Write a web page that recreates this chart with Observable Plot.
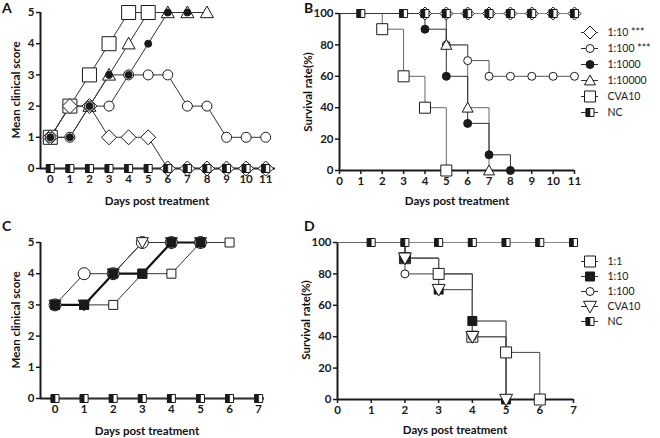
<!DOCTYPE html>
<html><head><meta charset="utf-8">
<script src="https://cdn.jsdelivr.net/npm/d3@7"></script>
<script src="https://cdn.jsdelivr.net/npm/@observablehq/plot@0.6"></script>
<style>
body{margin:0;background:#fff;}
#root{position:relative;width:660px;height:438px;font-family:Lato,"Open Sans",sans-serif;overflow:hidden;background:#fff;color:#111;}
#root > *{position:absolute;}
.ttl{font-weight:bold;font-size:11.5px;white-space:nowrap;line-height:1;}
.ytl{transform:translate(-50%,-50%) rotate(-90deg);}
.xtl{transform:translate(-50%,-50%);}
.letter{font-weight:bold;font-size:14px;line-height:1;}
</style></head><body><div id="root"></div>
<script>
// ---------------- DATA ----------------
// Panel A: mean clinical score (days 0..)
const seriesA = ["1:10", "1:100", "1:1000", "1:10000", "CVA10", "NC"];
const daysA = [0,1,2,3,4,5,6,7,8,9,10,11];
const scoreA_10    = [1,2,2,1,1,1,0,0,0,0,0,0];
const scoreA_100   = [1,1,2,2,3,3,3,2,2,1,1,1];
const scoreA_1000  = [1,1,2,3,3,4,5,5];
const scoreA_10000 = [1,2,2,3,4,5,5,5,5];
const scoreA_CVA10 = [1,2,3,4,5,5];
const scoreA_NC    = [0,0,0,0,0,0,0,0,0,0,0,0];

// Panel B: survival rate (%) by day, plus days that carry a marker
const legendB = ["1:10 ***", "1:100 ***", "1:1000", "1:10000", "CVA10", "NC"];
const daysB = [0,1,2,3,4,5,6,7,8,9,10,11];
const survB_10    = [100,100,100,100,100,100,100,100,100,100,100,100];
const survB_100   = [100,100,100,100,100,80,70,60,60,60,60,60];
const survB_1000  = [100,100,100,100,90,60,30,10,0];
const survB_10000 = [100,100,100,100,100,80,40,0];
const survB_CVA10 = [100,100,90,60,40,0];
const survB_NC    = [100,100,100,100,100,100,100,100,100,100,100,100];
const markB_10    = [4,5,6,7,8,9,10,11];
const markB_100   = [5,6,7,8,9,10,11];
const markB_1000  = [4,5,6,7,8];
const markB_10000 = [5,6,7];
const markB_CVA10 = [2,3,4,5];
const markB_NC    = [1,3,4,5,6,7,8,9,10,11];

// Panel C: mean clinical score
const seriesC = ["1:1", "1:10", "1:100", "CVA10", "NC"];
const daysC = [0,1,2,3,4,5,6,7];
const scoreC_1     = [3,3,3,4,4,5,5];
const scoreC_10    = [3,3,4,4,5,5];
const scoreC_100   = [3,4,4,5,5,5];
const scoreC_CVA10 = [3,3,4,5,5,5];
const scoreC_NC    = [0,0,0,0,0,0,0,0];

// Panel D: survival rate (%)
const legendD = ["1:1", "1:10", "1:100", "CVA10", "NC"];
const daysD = [0,1,2,3,4,5,6,7];
const survD_1     = [100,100,90,80,40,30,0];
const survD_10    = [100,100,90,70,50,0];
const survD_100   = [100,100,80,80,40,0];
const survD_CVA10 = [100,100,90,70,40,0];
const survD_NC    = [100,100,100,100,100,100,100,100];
const markD_1     = [2,3,4,5,6];
const markD_10    = [2,3,4,5];
const markD_100   = [2,4,5];
const markD_CVA10 = [2,3,4,5];
const markD_NC    = [1,2,3,4,5,6,7];

// tick labels
const ticksA = daysA, ticksB = daysB, ticksC = daysC, ticksD = daysD;
const ticksScore = [0,1,2,3,4,5];
const ticksSurv = [0,20,40,60,80,100];

// ---------------- SYMBOLS ----------------
const R = s => Math.sqrt(s / Math.PI);
const symSquare = {draw(c, s){const r=R(s); c.rect(-r,-r,2*r,2*r);}};
const symHalf = {draw(c, s){const r=R(s); c.rect(-r,-r,r,2*r);}};
const symDiamond = {draw(c, s){const r=R(s); c.moveTo(0,-r); c.lineTo(r,0); c.lineTo(0,r); c.lineTo(-r,0); c.closePath();}};
const symTriUp = {draw(c, s){const r=R(s); c.moveTo(0,-r); c.lineTo(r,0.8*r); c.lineTo(-r,0.8*r); c.closePath();}};
const symTriDown = {draw(c, s){const r=R(s); c.moveTo(0,r); c.lineTo(r,-0.8*r); c.lineTo(-r,-0.8*r); c.closePath();}};
const symCircle = {draw(c, s){const r=R(s); c.moveTo(r,0); c.arc(0,0,r,0,2*Math.PI); c.closePath();}};

const INK = "#1a1a1a";
function markerMarks(rows, st, xk, yk) {
  if (st.nc) {
    return [
      Plot.dot(rows, {x: xk, y: yk, symbol: symSquare, r: st.r, fill: "white", stroke: INK, strokeWidth: 1}),
      Plot.dot(rows, {x: xk, y: yk, symbol: symHalf, r: st.r, fill: INK, stroke: INK, strokeWidth: 0.6})
    ];
  }
  return [Plot.dot(rows, {x: xk, y: yk, symbol: st.sym, r: st.r, fill: st.fill, stroke: INK, strokeWidth: 1})];
}

const root = document.getElementById("root");
function place(el, left, top) { el.style.left = left + "px"; el.style.top = top + "px"; root.appendChild(el); }
function label(text, cls, x, y) { const d = document.createElement("div"); d.className = cls; d.textContent = text; place(d, x, y); }

function panel(cfg) {
  const marks = [
    Plot.ruleY([cfg.yDomain[0]], {stroke: INK, strokeWidth: 2}),
    Plot.ruleX([cfg.xDomain[0]], {stroke: INK, strokeWidth: 2}),
    Plot.axisX({ticks: cfg.xTicks, tickSize: 4, tickPadding: 2, tickFormat: d => String(d), label: null, strokeWidth: 1.5, stroke: INK}),
    Plot.axisY({ticks: cfg.yTicks, tickSize: 4, tickPadding: 2, tickFormat: d => String(d), label: null, strokeWidth: 1.5, stroke: INK})
  ];
  for (const s of cfg.series) {
    const rows = s.values.map((v, i) => ({x: cfg.days[i], y: v}));
    marks.push(Plot.line(rows, {x: "x", y: "y", curve: cfg.curve, stroke: s.line || "#333", strokeWidth: s.lw || 1}));
  }
  for (const s of cfg.series) {
    const rows = s.values.map((v, i) => ({x: cfg.days[i], y: v}))
      .filter(d => !s.marks || s.marks.includes(d.x));
    marks.push(...markerMarks(rows, s.style, "x", "y"));
  }
  const p = Plot.plot({
    width: cfg.width, height: cfg.height,
    marginLeft: cfg.ml, marginRight: cfg.mr, marginTop: cfg.mt, marginBottom: cfg.mb,
    x: {domain: cfg.xDomain}, y: {domain: cfg.yDomain},
    style: {fontFamily: "Lato, 'Open Sans', sans-serif", fontSize: "11.5px", fontWeight: "bold", color: INK, background: "transparent", overflow: "visible"},
    marks
  });
  place(p, cfg.left, cfg.top);
}

function legend(cfg) {
  const marks = [];
  cfg.names.forEach((n, i) => {
    const st = cfg.styles[i];
    marks.push(Plot.ruleY([n], {y: d => d, x1: 0, x2: 17, stroke: "#333", strokeWidth: 1}));
    marks.push(...markerMarks([n], st, () => 8.5, d => d));
    marks.push(Plot.text([n], {y: d => d, x: 26, text: d => d, textAnchor: "start", fill: INK}));
  });
  const p = Plot.plot({
    width: cfg.width, height: cfg.height, margin: 0,
    x: {type: "identity"},
    y: {type: "point", domain: cfg.names, range: cfg.range},
    axis: null,
    style: {fontFamily: "Lato, 'Open Sans', sans-serif", fontSize: "10.5px", color: INK, background: "transparent", overflow: "visible"},
    marks
  });
  place(p, cfg.left, cfg.top);
}

// styles
const sA = {
  d10: {sym: symDiamond, r: 7.5, fill: "white"},
  c100: {sym: symCircle, r: 5, fill: "white"},
  c1000: {sym: symCircle, r: 3.5, fill: INK},
  t10000: {sym: symTriUp, r: 6.5, fill: "white"},
  sq: {sym: symSquare, r: 7, fill: "white"},
  nc: {nc: true, r: 4}
};
const sB = {
  d10: {sym: symDiamond, r: 6.5, fill: "white"},
  c100: {sym: symCircle, r: 4, fill: "white"},
  c1000: {sym: symCircle, r: 4, fill: INK},
  t10000: {sym: symTriUp, r: 5.5, fill: "white"},
  sq: {sym: symSquare, r: 5.5, fill: "white"},
  nc: {nc: true, r: 4}
};
const sC = {
  s1: {sym: symSquare, r: 4.5, fill: "white"},
  s10: {sym: symSquare, r: 4.5, fill: INK},
  c100: {sym: symCircle, r: 6, fill: "white"},
  tv: {sym: symTriDown, r: 6, fill: "white"},
  nc: {nc: true, r: 4}
};
const sD = {
  s1: {sym: symSquare, r: 5.5, fill: "white"},
  s10: {sym: symSquare, r: 4.5, fill: INK},
  c100: {sym: symCircle, r: 4, fill: "white"},
  tv: {sym: symTriDown, r: 6.5, fill: "white"},
  nc: {nc: true, r: 4}
};

// Panel A
panel({
  left: 0, top: 0, width: 280, height: 205, ml: 40, mr: 5, mt: 12, mb: 37,
  xDomain: [-0.5, 11.5], yDomain: [0, 5], xTicks: ticksA, yTicks: ticksScore,
  days: daysA, curve: "linear",
  series: [
    {values: scoreA_10000, style: sA.t10000},
    {values: scoreA_CVA10, style: sA.sq},
    {values: scoreA_10, style: sA.d10},
    {values: scoreA_100, style: sA.c100},
    {values: scoreA_1000, style: sA.c1000},
    {values: scoreA_NC, style: sA.nc}
  ]
});

// Panel B
panel({
  left: 300, top: 0, width: 280, height: 205, ml: 39, mr: 6, mt: 13, mb: 35,
  xDomain: [0, 11], yDomain: [0, 100], xTicks: ticksB, yTicks: ticksSurv,
  days: daysB, curve: "step-after",
  series: [
    {values: survB_10, marks: markB_10, style: sB.d10, line: "#888"},
    {values: survB_NC, marks: markB_NC, style: sB.nc, line: "#888"},
    {values: survB_CVA10, marks: markB_CVA10, style: sB.sq, line: "#666"},
    {values: survB_100, marks: markB_100, style: sB.c100, line: "#555"},
    {values: survB_10000, marks: markB_10000, style: sB.t10000, line: "#666"},
    {values: survB_1000, marks: markB_1000, style: sB.c1000, line: "#333"}
  ]
});
legend({left: 581, top: 10, width: 79, height: 125, names: legendB, range: [13, 111],
  styles: [sB.d10, sB.c100, sB.c1000, sB.t10000, sB.sq, sB.nc]});

// Panel C
panel({
  left: 0, top: 215, width: 270, height: 223, ml: 40, mr: 6, mt: 27, mb: 40,
  xDomain: [-0.5, 7.2], yDomain: [0, 5], xTicks: ticksC, yTicks: ticksScore,
  days: daysC, curve: "linear",
  series: [
    {values: scoreC_1, style: sC.s1},
    {values: scoreC_100, style: sC.c100},
    {values: scoreC_CVA10, style: sC.tv},
    {values: scoreC_10, style: sC.s10, lw: 2.2, line: "#111"},
    {values: scoreC_NC, style: sC.nc}
  ]
});

// Panel D
panel({
  left: 300, top: 215, width: 280, height: 223, ml: 37, mr: 7, mt: 27, mb: 39,
  xDomain: [0, 7], yDomain: [0, 100], xTicks: ticksD, yTicks: ticksSurv,
  days: daysD, curve: "step-after",
  series: [
    {values: survD_NC, marks: markD_NC, style: sD.nc, line: "#888"},
    {values: survD_1, marks: markD_1, style: sD.s1, line: "#444"},
    {values: survD_100, marks: markD_100, style: sD.c100, line: "#444"},
    {values: survD_10, marks: markD_10, style: sD.s10, line: "#222"},
    {values: survD_CVA10, marks: markD_CVA10, style: sD.tv, line: "#666"}
  ]
});
legend({left: 581, top: 243, width: 79, height: 100, names: legendD, range: [10, 86],
  styles: [sD.s1, sD.s10, sD.c100, sD.tv, sD.nc]});

// Titles and panel letters
label("Mean clinical score", "ttl ytl", 16, 90);
label("Days post treatment", "ttl xtl", 157, 201);
label("Survival rate(%)", "ttl ytl", 308, 92);
label("Days post treatment", "ttl xtl", 457, 201);
label("Mean clinical score", "ttl ytl", 16, 320);
label("Days post treatment", "ttl xtl", 147, 431);
label("Survival rate(%)", "ttl ytl", 306, 320);
label("Days post treatment", "ttl xtl", 455, 430);
label("A", "letter", 2, 1);
label("B", "letter", 304, 1);
label("C", "letter", 2, 219);
label("D", "letter", 304, 219);
</script></body></html>
